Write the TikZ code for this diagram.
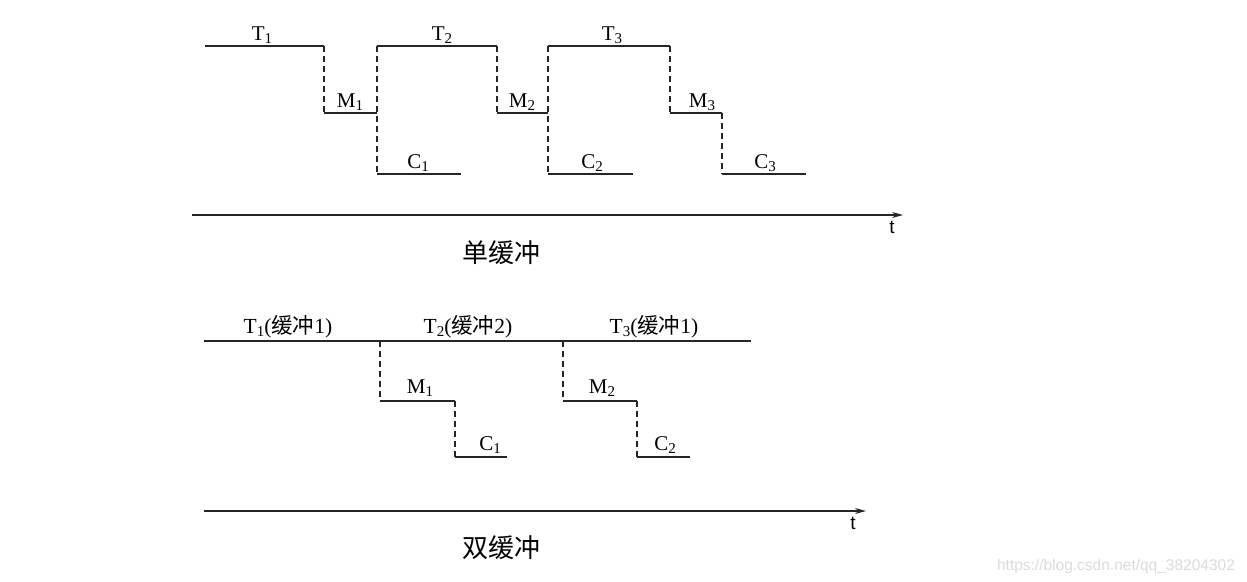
\documentclass[tikz,border=0pt]{standalone}
\usepackage{fontspec}
\setmainfont{Liberation Serif}
\newfontfamily\cjk{Noto Sans CJK SC}
\newfontfamily\sanst{Liberation Sans}
\usetikzlibrary{arrows.meta}
\newcommand\mysub[1]{\raisebox{-0.35ex}{\fontsize{15}{15}\selectfont #1}}
\tikzset{
  sol/.style={line width=1.3pt, black!85},
  dsh/.style={line width=1.3pt, black!85, dash pattern=on 6pt off 4pt},
  axis/.style={line width=1.4pt, black!85, -{Stealth[length=11pt,width=6pt]}},
  lab/.style={anchor=base, inner sep=0pt, font=\fontsize{21}{21}\selectfont},
  blab/.style={anchor=base, inner sep=0pt, font=\fontsize{21.5}{21.5}\selectfont},
  captxt/.style={anchor=base, inner sep=0pt, font=\cjk\fontsize{26}{26}\selectfont},
  tl/.style={anchor=base, inner sep=0pt, font=\sanst\fontsize{19}{19}\selectfont},
}
\begin{document}
\begin{tikzpicture}[x=1pt,y=-1pt]
\useasboundingbox (0,0) rectangle (1247,581);
% ---------- single buffer ----------
\draw[sol] (205,46) -- (324,46);
\draw[dsh] (324,46) -- (324,113);
\draw[sol] (324,113) -- (377,113);
\draw[dsh] (377,46) -- (377,174);
\draw[sol] (377,46) -- (497,46);
\draw[sol] (377,174) -- (461,174);
\draw[dsh] (497,46) -- (497,113);
\draw[sol] (497,113) -- (548,113);
\draw[dsh] (548,46) -- (548,174);
\draw[sol] (548,46) -- (670,46);
\draw[sol] (548,174) -- (633,174);
\draw[dsh] (670,46) -- (670,113);
\draw[sol] (670,113) -- (722,113);
\draw[dsh] (722,113) -- (722,174);
\draw[sol] (722,174) -- (806,174);
\node[lab] (t1) at (262,40) {T\mysub{1}};
\node[lab] (t2) at (442,40) {T\mysub{2}};
\node[lab] (t3) at (612,40) {T\mysub{3}};
\node[lab] (m1) at (350,107) {M\mysub{1}};
\node[lab] (m2) at (522,107) {M\mysub{2}};
\node[lab] (m3) at (702,107) {M\mysub{3}};
\node[lab] (c1) at (418,168) {C\mysub{1}};
\node[lab] (c2) at (592,168) {C\mysub{2}};
\node[lab] (c3) at (765,168) {C\mysub{3}};
\coordinate (a1s) at (192,215);
\coordinate (a1e) at (903,215);
\draw[axis] (a1s) -- (a1e);
\node[tl] (t) at (892,233) {t};
\node[captxt] (s) at (501,262) {单缓冲};
% ---------- double buffer ----------
\draw[sol] (204,341) -- (751,341);
\draw[dsh] (380,341) -- (380,401);
\draw[sol] (380,401) -- (455,401);
\draw[dsh] (455,401) -- (455,457);
\draw[sol] (455,457) -- (507,457);
\draw[dsh] (563,341) -- (563,401);
\draw[sol] (563,401) -- (637,401);
\draw[dsh] (637,401) -- (637,457);
\draw[sol] (637,457) -- (690,457);
\node[blab] (bt1) at (288,333) {T\mysub{1}({\cjk 缓冲}1)};
\node[blab] (bt2) at (468,333) {T\mysub{2}({\cjk 缓冲}2)};
\node[blab] (bt3) at (654,333) {T\mysub{3}({\cjk 缓冲}1)};
\node[lab] (bm1) at (420,393) {M\mysub{1}};
\node[lab] (bm2) at (602,393) {M\mysub{2}};
\node[lab] (bc1) at (490,450) {C\mysub{1}};
\node[lab] (bc2) at (665,450) {C\mysub{2}};
\coordinate (a2s) at (204,511);
\coordinate (a2e) at (866,511);
\draw[axis] (a2s) -- (a2e);
\node[tl] (t') at (853,529) {t};
\node[captxt] (d) at (501,557) {双缓冲};
\node[anchor=base, inner sep=0pt, font=\sanst\fontsize{15.5}{15.5}\selectfont, text=black!14] (wm) at (1116,570) {https://blog.csdn.net/qq\_38204302};
\end{tikzpicture}
\end{document}
